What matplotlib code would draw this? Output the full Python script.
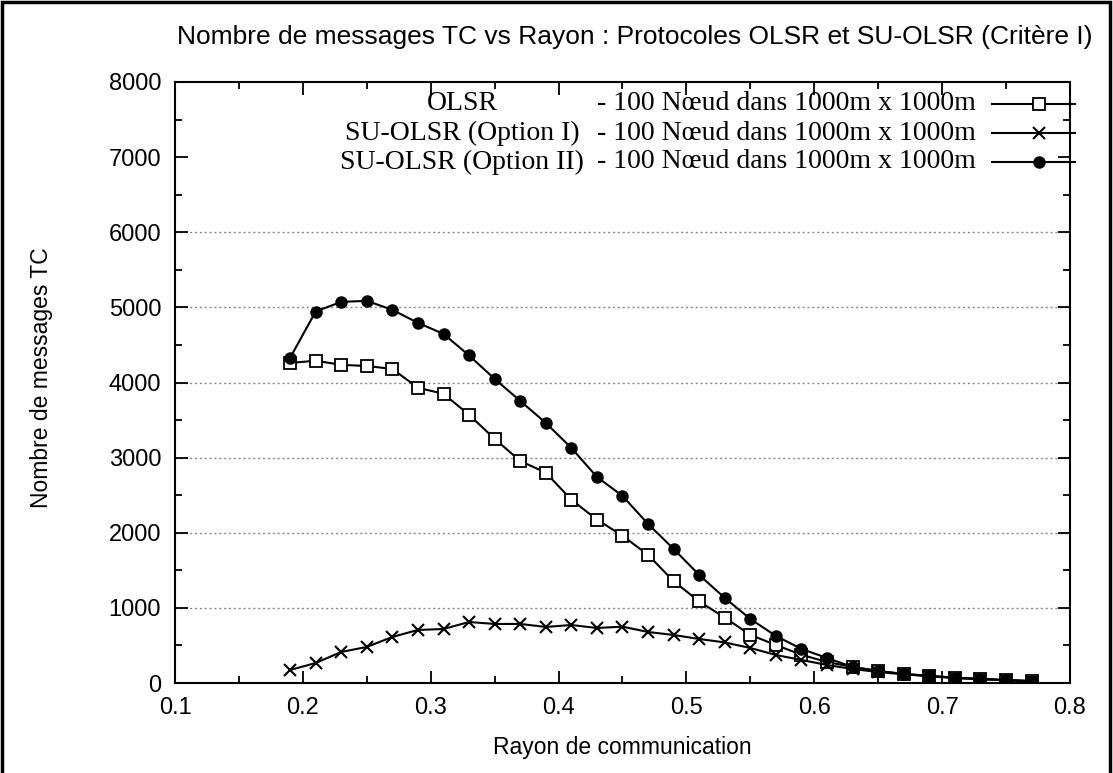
import matplotlib
matplotlib.use("Agg")
import matplotlib.pyplot as plt
from matplotlib.lines import Line2D
from matplotlib.patches import Rectangle

rayon = [0.19, 0.21, 0.23, 0.25, 0.27, 0.29, 0.31, 0.33, 0.35, 0.37,
         0.39, 0.41, 0.43, 0.45, 0.47, 0.49, 0.51, 0.53, 0.55, 0.57,
         0.59, 0.61, 0.63, 0.65, 0.67, 0.69, 0.71, 0.73, 0.75, 0.77]

olsr = [4260, 4290, 4235, 4220, 4180, 3930, 3850, 3570, 3250, 2955,
        2800, 2440, 2175, 1960, 1705, 1355, 1085, 870, 640, 506,
        375, 280, 213, 160, 120, 95, 70, 55, 40, 25]

su_opt1 = [173, 266, 413, 480, 613, 706, 719, 812, 786, 786,
           746, 772, 732, 750, 679, 639, 586, 540, 466, 373,
           306, 240, 186, 146, 115, 90, 65, 50, 35, 25]

su_opt2 = [4327, 4945, 5073, 5087, 4967, 4794, 4647, 4360, 4048, 3755,
           3462, 3129, 2743, 2490, 2117, 1784, 1438, 1132, 852, 626,
           453, 333, 213, 160, 120, 95, 70, 55, 40, 25]

legend_names = ["OLSR", "SU-OLSR (Option I)", "SU-OLSR (Option II)"]
legend_desc = "- 100 N\u0153ud dans 1000m x 1000m"

title = "Nombre de messages TC vs Rayon : Protocoles OLSR et SU-OLSR (Crit\u00e8re I)"
xlabel = "Rayon de communication"
ylabel = "Nombre de messages TC"

W, H = 1113, 773
fig = plt.figure(figsize=(W / 100, H / 100), dpi=100)
ax = fig.add_axes([175 / W, 1 - 683 / H, (1070 - 175) / W, (683 - 82) / H])

sans = "Liberation Sans"
serif = "Liberation Serif"

styles = [
    dict(marker="s", markerfacecolor="white", markeredgecolor="black", markersize=8, markeredgewidth=1.3),
    dict(marker="x", markeredgecolor="black", markersize=9, markeredgewidth=1.5),
    dict(marker="o", markerfacecolor="black", markeredgecolor="black", markersize=8),
]
series = [olsr, su_opt1, su_opt2]
for ys, st in zip(series, styles):
    ax.plot(rayon, ys, color="black", linewidth=1.5, **st)

ax.set_xlim(0.1, 0.8)
ax.set_ylim(0, 8000)
ax.set_xticks([0.1, 0.2, 0.3, 0.4, 0.5, 0.6, 0.7, 0.8])
ax.set_xticks([0.15, 0.25, 0.35, 0.45, 0.55, 0.65, 0.75], minor=True)
ax.set_yticks(range(0, 8001, 1000))
ax.set_yticks(range(500, 8000, 1000), minor=True)
ax.tick_params(which="both", direction="in", top=True, right=True, width=1.3)
ax.tick_params(which="major", length=9, labelsize=17, pad=10)
ax.tick_params(which="minor", length=5)
for lab in ax.get_xticklabels() + ax.get_yticklabels():
    lab.set_fontfamily(sans)
for sp in ax.spines.values():
    sp.set_linewidth(1.5)

for gy in range(1000, 7000, 1000):
    ax.axhline(gy, color="#888888", linestyle=(0, (1.5, 2)), linewidth=1.0, zorder=0)

ax.set_xlabel(xlabel, fontsize=16.5, fontfamily=sans, labelpad=12)
ax.set_ylabel(ylabel, fontsize=16.5, fontfamily=sans, labelpad=0)
ax.yaxis.set_label_coords((53 - 175) / (1070 - 175), (683 - 378) / (683 - 82))
fig.text(635 / W, 1 - 37 / H, title, fontsize=19, fontfamily=sans, ha="center", va="center")

# legend (gnuplot style key)
rows_y = [104, 133, 162]
for name, st, yy in zip(legend_names, styles, rows_y):
    yf = 1 - yy / H
    fig.text(462 / W, yf, name, fontsize=20, fontfamily=serif, ha="center", va="center")
    fig.text(597 / W, yf, legend_desc, fontsize=20, fontfamily=serif, ha="left", va="center")
    fig.add_artist(Line2D([992 / W, 1075 / W], [yf, yf], color="black", linewidth=1.5))
    fig.add_artist(Line2D([1039 / W], [yf], linestyle="none", **st))

fig.add_artist(Rectangle((2 / W, -0.01), (W - 5) / W, 1 - 2 / H + 0.01, transform=fig.transFigure,
                         fill=False, edgecolor="black", linewidth=2.5))

fig.savefig("out.png", dpi=100)
